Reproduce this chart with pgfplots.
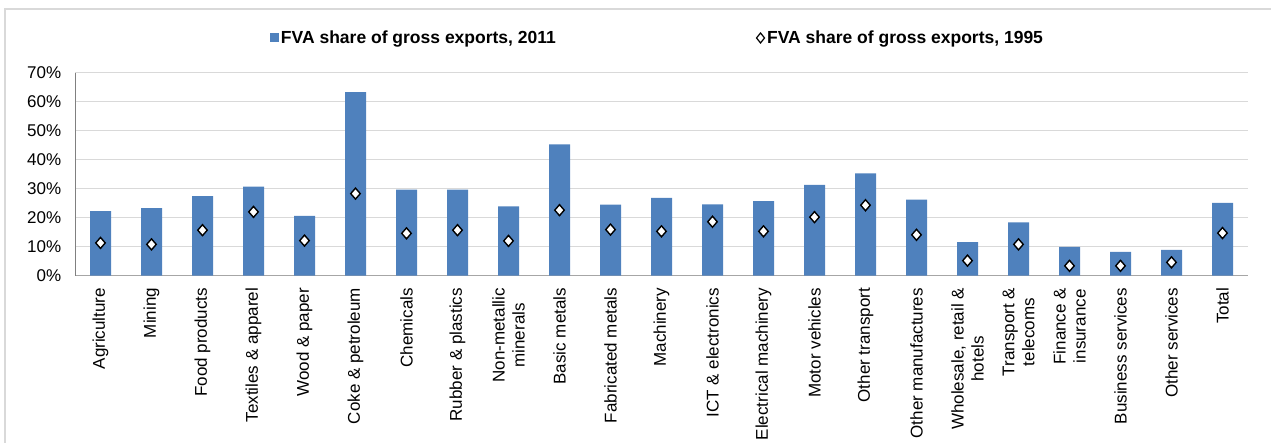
\documentclass[border=0pt]{standalone}
\usepackage{fontspec}
\setmainfont{Liberation Sans}
\usepackage{pgfplots}
\pgfplotsset{compat=1.18}
\definecolor{barblue}{HTML}{4F81BD}
\definecolor{gridgray}{HTML}{D9D9D9}
\definecolor{axisgray}{HTML}{A6A6A6}
\begin{document}
\fontsize{17bp}{20bp}\selectfont
\begin{tikzpicture}[x=1bp,y=1bp]
\useasboundingbox (0,0) rectangle (1271,443);
\draw[gridgray, line width=1.5bp] (5,0) -- (5,434) -- (1271,434);
\begin{axis}[
  at={(75bp,167.3bp)}, anchor=south west,
  scale only axis, width=1173bp, height=203bp,
  xmin=-0.5, xmax=22.5, ymin=0, ymax=70,
  ytick={0,10,20,30,40,50,60,70},
  yticklabels={0\%,10\%,20\%,30\%,40\%,50\%,60\%,70\%},
  xtick={0,...,22},
  xticklabels={Agriculture,Mining,Food products,Textiles \& apparel,Wood \& paper,Coke \& petroleum,Chemicals,Rubber \& plastics,Non-metallic\\minerals,Basic metals,Fabricated metals,Machinery,ICT \& electronics,Electrical machinery,Motor vehicles,Other transport,Other manufactures,{Wholesale, retail \&\\hotels},Transport \&\\telecoms,Finance \&\\insurance,Business services,Other services,Total},
  major tick length=0pt,
  tick label style={font=\fontsize{17bp}{20bp}\selectfont},
  xticklabel style={rotate=90, anchor=east, align=center},
  xticklabel shift=6.5bp,
  yticklabel shift=8bp,
  axis x line*=bottom, axis y line*=left,
  x axis line style={axisgray, line width=1.5bp, -},
  y axis line style={gray, line width=0.8bp, -},
  ymajorgrids, grid style={gridgray, line width=1.5bp},
  legend style={at={(0.4966,1.171)}, anchor=center, draw=none, fill=none,
    legend columns=2, font=\bfseries\fontsize{17.5bp}{20bp}\selectfont,
    /tikz/every even column/.append style={column sep=198bp},
    nodes={inner sep=2bp}},
]
\addplot[ybar, bar width=21bp, fill=barblue, draw=none,
  legend image code/.code={\fill[barblue] (0bp,-4.5bp) rectangle (9bp,4.5bp);}]
coordinates {(0,22.3) (1,23.3) (2,27.4) (3,30.7) (4,20.6) (5,63.3) (6,29.7) (7,29.7) (8,23.9) (9,45.3) (10,24.5) (11,26.8) (12,24.6) (13,25.7) (14,31.3) (15,35.3) (16,26.2) (17,11.6) (18,18.4) (19,9.9) (20,8.2) (21,8.9) (22,25.1)};
\addlegendentry{FVA share of gross exports, 2011}
\addplot[only marks, mark=diamond*, mark size=5.5bp, mark options={fill=white, draw=black, line width=1.4bp, xscale=1.15},
  legend image code/.code={\draw[fill=white, draw=black, line width=1.2bp] (4.5bp,5bp) -- (8.5bp,0bp) -- (4.5bp,-5bp) -- (0.5bp,0bp) -- cycle;}]
coordinates {(0,11.3) (1,10.8) (2,15.7) (3,22.0) (4,12.1) (5,28.3) (6,14.6) (7,15.7) (8,12.0) (9,22.6) (10,15.9) (11,15.3) (12,18.6) (13,15.3) (14,20.2) (15,24.3) (16,14.1) (17,5.2) (18,10.8) (19,3.4) (20,3.4) (21,4.6) (22,14.7)};
\addlegendentry{FVA share of gross exports, 1995}
\end{axis}
\end{tikzpicture}
\end{document}
